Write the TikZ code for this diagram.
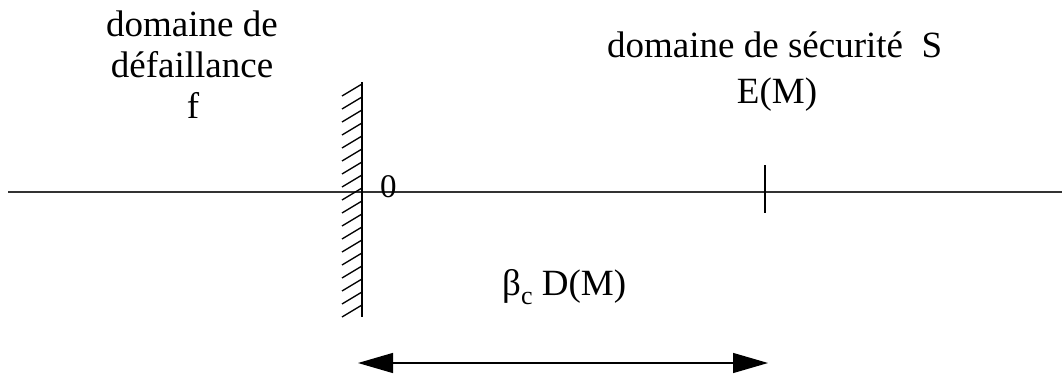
\documentclass[tikz,border=0pt]{standalone}
\usepackage{fontspec}
\setmainfont{Liberation Serif}
\usetikzlibrary{arrows.meta}
\begin{document}
\begin{tikzpicture}[x=1pt,y=-1pt,
  lbl/.style={inner sep=0pt,anchor=base,font=\fontsize{37}{40}\selectfont,text=black},
  smalllbl/.style={inner sep=0pt,anchor=base west,font=\fontsize{33}{36}\selectfont,text=black},
  axisline/.style={line width=1.3pt,black!80},
  wallline/.style={line width=1.8pt},
  hatchline/.style={line width=1.3pt},
  dimarrow/.style={line width=1.3pt,{Triangle[length=35pt,width=20pt]}-{Triangle[length=35pt,width=20pt]}}]
\useasboundingbox (0,0) rectangle (1062,377);
% axis
\coordinate (axL) at (8,192);
\coordinate (axR) at (1062,192);
\draw[axisline] (axL) -- (axR);
% wall
\coordinate (wT) at (362,82);
\coordinate (wB) at (362,317);
\draw[wallline] (wT) -- (wB);
\foreach \y in {84,97,...,310}
  \draw[hatchline] (362,\y) -- ++(-20,12);
% tick
\coordinate (tT) at (765,165);
\coordinate (tB) at (765,213);
\draw[line width=1.8pt] (tT) -- (tB);
% labels
\node[lbl] (l1) at (192,37) {domaine de};
\node[lbl] (l2) at (192,78) {défaillance};
\node[lbl] (l3) at (193,118) {f};
\node[lbl,anchor=base west] (r1) at (607,58) {domaine de sécurité\ \ S};
\node[lbl] (r2) at (777,104) {E(M)};
\node[smalllbl] (zero) at (380,197) {0};
\node[lbl,anchor=base west] (beta) at (502,295) {β\raisebox{-0.25em}{\fontsize{26}{28}\selectfont c} D(M)};
% dimension arrow
\coordinate (aL) at (358,363);
\coordinate (aR) at (768,363);
\draw[dimarrow] (aL) -- (aR);
\end{tikzpicture}
\end{document}
